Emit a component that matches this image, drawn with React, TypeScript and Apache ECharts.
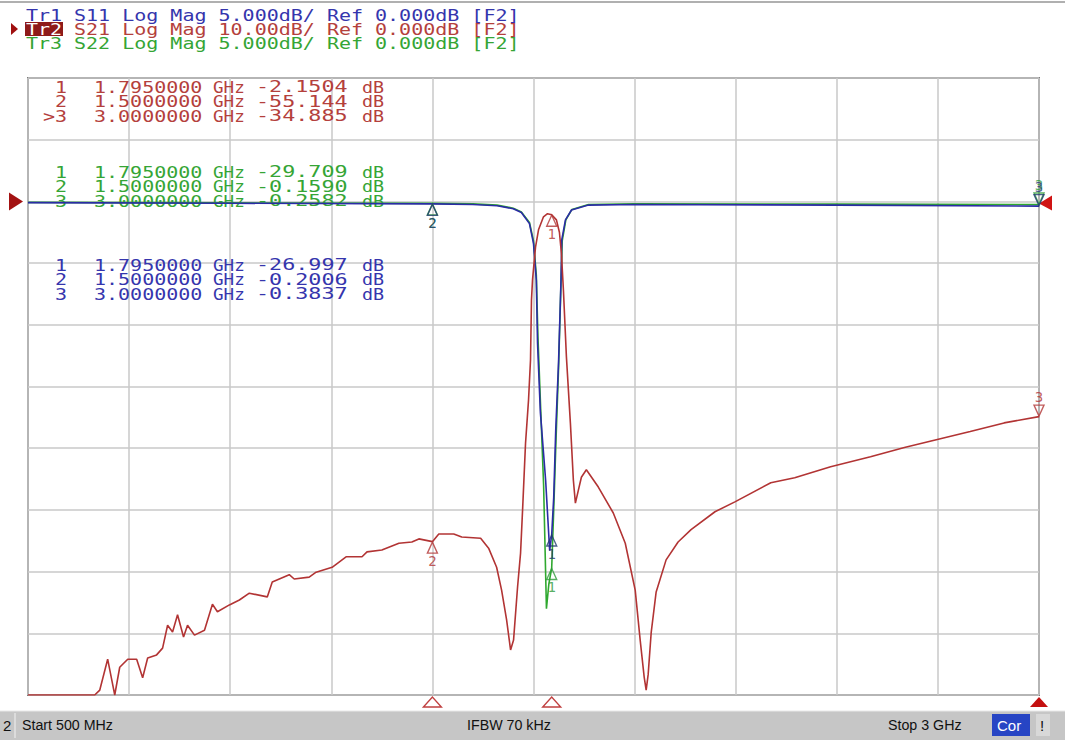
import React, { useEffect, useRef } from "react";
import * as echarts from "echarts";

// ---------- data ----------
const START_GHZ = 0.5;
const STOP_GHZ = 3.0;

// S21 (Tr2, 10 dB/div, ref 0 dB)
const S21_FREQ = [
  0.5, 0.665, 0.6775, 0.697, 0.707, 0.7145, 0.7268, 0.7466, 0.7687, 0.7835, 0.7959, 0.818,
  0.8328, 0.8452, 0.8575, 0.8698, 0.8846, 0.8945, 0.9117, 0.9364, 0.9561, 0.9684, 0.998,
  1.0227, 1.0473, 1.0917, 1.104, 1.146, 1.1583, 1.1953, 1.2125, 1.252, 1.2865, 1.326, 1.3383,
  1.375, 1.4172, 1.4492, 1.4665, 1.5, 1.5158, 1.5528, 1.5725, 1.6193, 1.639, 1.6588, 1.6711,
  1.6834, 1.6933, 1.7007, 1.7106, 1.718, 1.723, 1.7303, 1.7377, 1.7426, 1.745, 1.7476, 1.755,
  1.7624, 1.7747, 1.7846, 1.795, 1.8067, 1.8141, 1.819, 1.824, 1.8314, 1.8412, 1.8486, 1.8536,
  1.861, 1.8684, 1.8807, 1.9103, 1.9473, 1.9769, 2.0015, 2.0138, 2.0237, 2.0286, 2.0335, 2.041,
  2.0533, 2.0779, 2.1075, 2.1396, 2.1987, 2.248, 2.3368, 2.3959, 2.4847, 2.5833, 2.6672,
  2.7485, 2.8299, 2.9137, 3.0,
];
const S21_DB = [
  -80, -80, -79.2, -74.2, -77.5, -80, -75.5, -74.2, -74.2, -77.2, -74.0, -73.5,
  -72.4, -68.7, -69.8, -67.0, -70.6, -68.7, -70.3, -69.5, -65.3, -66.5, -65.4,
  -64.6, -63.5, -64.1, -61.7, -60.5, -61.2, -60.9, -60.1, -59.3, -57.6, -57.6, -56.8,
  -56.5, -55.4, -55.2, -54.7, -55.144, -53.9, -53.9, -54.4, -54.6, -56.2, -59.3, -63.0,
  -67.8, -72.7, -71.1, -62.5, -57.0, -50, -39.2, -32.2, -25.7, -16, -12.7, -7.4,
  -4.6, -2.5, -2.0, -2.1504, -3.0, -5.0, -8.4, -14.4, -25.2, -35.9, -45.2, -48.9,
  -46.8, -44.7, -43.5, -46.3, -50.5, -55.4, -63.0, -71.1, -77.1, -79.2, -76.7, -69.9,
  -63.3, -58.1, -55.2, -53.2, -50.3, -48.7, -45.6, -44.8, -43.0, -41.4, -39.9,
  -38.6, -37.3, -35.9, -34.885,
];

// S11 (Tr1, 5 dB/div, ref 0 dB)
const S11_FREQ = [
  0.5, 1.0, 1.5, 1.6, 1.66, 1.7, 1.72, 1.74, 1.75, 1.757, 1.76, 1.767, 1.78, 1.79, 1.795,
  1.8, 1.805, 1.812, 1.818, 1.82, 1.829, 1.844, 1.886, 2.0, 2.5, 3.0,
];
const S11_DB = [
  -0.1, -0.15, -0.2006, -0.25, -0.35, -0.6, -0.9, -1.8, -3.4, -6.4, -11.5, -17.1, -22.6, -28.3,
  -26.997, -24, -18.5, -13, -6.4, -3.1, -1.5, -0.7, -0.3, -0.25, -0.3, -0.3837,
];

// S22 (Tr3, 5 dB/div, ref 0 dB)
const S22_FREQ = [
  0.5, 1.0, 1.5, 1.6, 1.66, 1.7, 1.72, 1.74, 1.75, 1.757, 1.761, 1.768, 1.775, 1.782, 1.788,
  1.795, 1.8, 1.806, 1.812, 1.818, 1.821, 1.83, 1.845, 1.886, 2.0, 2.5, 3.0,
];
const S22_DB = [
  -0.08, -0.12, -0.159, -0.2, -0.3, -0.55, -0.85, -1.7, -3.2, -6, -11, -17, -23, -33, -31,
  -29.709, -25, -19, -13.5, -6.6, -3.2, -1.5, -0.65, -0.25, -0.2, -0.22, -0.2582,
];

// markers
const MARKER_FREQ = [1.795, 1.5, 3.0];
const MARKER_NAMES = ["1", "2", "3"];
const MARKER_FREQ_TEXT = ["1.7950000", "1.5000000", "3.0000000"];
const S21_MARKER_DB = [-2.1504, -55.144, -34.885];
const S22_MARKER_DB = [-29.709, -0.159, -0.2582];
const S11_MARKER_DB = [-26.997, -0.2006, -0.3837];
const S21_MARKER_TEXT = ["-2.1504", "-55.144", "-34.885"];
const S22_MARKER_TEXT = ["-29.709", "-0.1590", "-0.2582"];
const S11_MARKER_TEXT = ["-26.997", "-0.2006", "-0.3837"];

const HEADER_TRACES = ["Tr1", "Tr2", "Tr3"];
const HEADER_REST = [
  " S11 Log Mag 5.000dB/ Ref 0.000dB [F2]",
  " S21 Log Mag 10.00dB/ Ref 0.000dB [F2]",
  " S22 Log Mag 5.000dB/ Ref 0.000dB [F2]",
];
const STATUS_TEXTS = ["2", "Start 500 MHz", "IFBW 70 kHz", "Stop 3 GHz", "Cor", "!"];

// ---------- styles ----------
const RED = "#b23434";
const BLUE = "#2b2ba6";
const GREEN = "#2fa82f";
const RED_T = "#b4403c";
const BLUE_T = "#3535ad";
const GREEN_T = "#35a535";
const MONO = '"DejaVu Sans Mono", "Liberation Mono", monospace';
const SX = 1.25;

const zip = (a: number[], b: number[]) => a.map((v, i) => [v, b[i]]);

function markerSeries(name: string, dbs: number[], yIdx: number, color: string) {
  const data = MARKER_FREQ.map((f, i) => {
    const active = i === 2;
    return {
      value: [f, dbs[i]],
      symbolRotate: active ? 180 : 0,
      symbolOffset: active ? [0, -6] : [0, 6],
      label: {
        show: true,
        formatter: MARKER_NAMES[i],
        position: active ? "top" : "bottom",
        distance: 0,
        color,
        fontFamily: MONO,
        fontSize: 14,
      },
    };
  });
  return {
    name,
    type: "scatter",
    yAxisIndex: yIdx,
    symbol: "triangle",
    symbolSize: [10, 11],
    itemStyle: { color: "rgba(255,255,255,0)", borderColor: color, borderWidth: 1.4 },
    data,
    z: 10,
    clip: false,
  };
}

export default function App() {
  const ref = useRef<HTMLDivElement>(null);
  useEffect(() => {
    if (!ref.current) return;
    const chart = echarts.init(ref.current, undefined, { renderer: "svg" });
    chart.setOption({
      animation: false,
      backgroundColor: "#ffffff",
      grid: {
        left: 28,
        right: 26,
        top: 78,
        bottom: 45,
        show: true,
        borderColor: "#7c7c7c",
        borderWidth: 2,
        backgroundColor: "#ffffff",
      },
      xAxis: {
        type: "value",
        min: START_GHZ,
        max: STOP_GHZ,
        interval: 0.25,
        axisLabel: { show: false },
        axisTick: { show: false },
        axisLine: { show: false },
        splitLine: { show: true, lineStyle: { color: "#c9c9c9", width: 1.5 } },
      },
      yAxis: [
        {
          type: "value",
          min: -80,
          max: 20,
          interval: 10,
          axisLabel: { show: false },
          axisTick: { show: false },
          axisLine: { show: false },
          splitLine: { show: true, lineStyle: { color: "#c9c9c9", width: 1.5 } },
        },
        {
          type: "value",
          min: -40,
          max: 10,
          interval: 5,
          axisLabel: { show: false },
          axisTick: { show: false },
          axisLine: { show: false },
          splitLine: { show: false },
        },
      ],
      series: [
        {
          name: "S22",
          type: "line",
          yAxisIndex: 1,
          data: zip(S22_FREQ, S22_DB),
          showSymbol: false,
          lineStyle: { color: GREEN, width: 1.6 },
          z: 2,
        },
        {
          name: "S11",
          type: "line",
          yAxisIndex: 1,
          data: zip(S11_FREQ, S11_DB),
          showSymbol: false,
          lineStyle: { color: BLUE, width: 1.6 },
          z: 3,
        },
        {
          name: "S21",
          type: "line",
          yAxisIndex: 0,
          data: zip(S21_FREQ, S21_DB),
          showSymbol: false,
          lineStyle: { color: RED, width: 1.6 },
          z: 4,
        },
        markerSeries("S22 markers", S22_MARKER_DB, 1, "#2e9a3a"),
        markerSeries("S11 markers", S11_MARKER_DB, 1, "#1f3a6e"),
        markerSeries("S21 markers", S21_MARKER_DB, 0, RED),
      ],
    });

    // overlay: header, marker tables, stimulus markers, status bar
    const g: any[] = [];
    g.push({ type: "line", shape: { x1: 0, y1: 2, x2: 1065, y2: 2 }, style: { stroke: "#b0b0b0", lineWidth: 2 } });
    const headerColors = [BLUE_T, RED_T, GREEN_T];
    HEADER_TRACES.forEach((tr, i) => {
      const y = 15 + i * 14;
      if (i === 1) {
        g.push({ type: "rect", shape: { x: 25, y: y - 7, width: 38, height: 14 }, style: { fill: "#8e1a1a" } });
        g.push({ type: "polygon", shape: { points: [[11, y - 6], [11, y + 6], [18, y]] }, style: { fill: "#a01010" } });
      }
      g.push({
        type: "text", x: 26, y, scaleX: SX,
        style: { text: tr, fill: i === 1 ? "#ffffff" : headerColors[i], fontFamily: MONO, fontSize: 16, verticalAlign: "middle" },
      });
      g.push({
        type: "text", x: 26 + 3 * 12, y, scaleX: SX,
        style: { text: HEADER_REST[i], fill: headerColors[i], fontFamily: MONO, fontSize: 16, verticalAlign: "middle" },
      });
    });

    const tables = [
      { y0: 87, color: RED_T, vals: S21_MARKER_TEXT },
      { y0: 172, color: GREEN_T, vals: S22_MARKER_TEXT },
      { y0: 265, color: BLUE_T, vals: S11_MARKER_TEXT },
    ];
    tables.forEach((t, ti) => {
      MARKER_NAMES.forEach((nm, i) => {
        const y = t.y0 + i * 14.5;
        const label = ti === 0 && i === 2 ? ">" + nm : nm;
        const base = { fill: t.color, fontFamily: MONO, fontSize: 16, verticalAlign: "middle" };
        g.push({ type: "text", x: 67, y, scaleX: SX, style: { ...base, text: label, align: "right" } });
        g.push({ type: "text", x: 94, y, scaleX: SX, style: { ...base, text: MARKER_FREQ_TEXT[i] } });
        g.push({ type: "text", x: 213, y, scaleX: 1.1, style: { ...base, text: "GHz" } });
        g.push({ type: "text", x: 256, y, scaleX: 1.36, style: { ...base, text: t.vals[i] } });
        g.push({ type: "text", x: 362, y, scaleX: 1.15, style: { ...base, text: "dB" } });
      });
    });

    // reference level triangles
    const yRef = chart.convertToPixel({ yAxisIndex: 0 }, 0) as number;
    g.push({ type: "polygon", shape: { points: [[9, yRef - 9], [9, yRef + 9], [23, yRef]] }, style: { fill: "#a31212" } });
    const xEnd = chart.convertToPixel({ xAxisIndex: 0 }, STOP_GHZ) as number;
    g.push({ type: "polygon", shape: { points: [[xEnd + 13, yRef - 6], [xEnd + 13, yRef + 9], [xEnd, yRef + 2]] }, style: { fill: "#d01414" } });

    // stimulus markers below the grid
    MARKER_FREQ.forEach((f, i) => {
      const px = chart.convertToPixel({ xAxisIndex: 0 }, f) as number;
      const active = i === 2;
      g.push({
        type: "polygon",
        shape: { points: [[px - 9, 707], [px + 9, 707], [px, 697]] },
        style: active ? { fill: "#c41010" } : { fill: "#ffffff", stroke: "#c04040", lineWidth: 1.4 },
      });
    });

    // status bar
    g.push({ type: "rect", shape: { x: 0, y: 711, width: 1065, height: 29 }, style: { fill: "#c6c6c6" } });
    g.push({ type: "line", shape: { x1: 0, y1: 711, x2: 1065, y2: 711 }, style: { stroke: "#e8e8e8", lineWidth: 1 } });
    const sb = { fill: "#111111", fontFamily: '"Liberation Sans", Arial, sans-serif', fontSize: 15, verticalAlign: "middle" };
    g.push({ type: "text", x: 3, y: 725, style: { ...sb, text: STATUS_TEXTS[0] } });
    g.push({ type: "line", shape: { x1: 15, y1: 713, x2: 15, y2: 738 }, style: { stroke: "#f2f2f2", lineWidth: 1 } });
    g.push({ type: "text", x: 22, y: 725, scaleX: 0.95, style: { ...sb, text: STATUS_TEXTS[1] } });
    g.push({ type: "text", x: 467, y: 725, scaleX: 0.95, style: { ...sb, text: STATUS_TEXTS[2] } });
    g.push({ type: "text", x: 888, y: 725, scaleX: 0.95, style: { ...sb, text: STATUS_TEXTS[3] } });
    g.push({ type: "rect", shape: { x: 992, y: 714, width: 38, height: 22 }, style: { fill: "#2745c4" } });
    g.push({ type: "text", x: 997, y: 725, style: { ...sb, fill: "#ffffff", text: STATUS_TEXTS[4] } });
    g.push({ type: "rect", shape: { x: 1036, y: 714, width: 14, height: 22 }, style: { fill: "#d8d8d8" } });
    g.push({ type: "text", x: 1040, y: 725, style: { ...sb, text: STATUS_TEXTS[5] } });

    chart.setOption({ graphic: g });
    return () => chart.dispose();
  }, []);
  return (
    <div
      ref={ref}
      style={{ position: "fixed", left: 0, top: 0, width: 1065, height: 740, background: "#ffffff" }}
    />
  );
}
